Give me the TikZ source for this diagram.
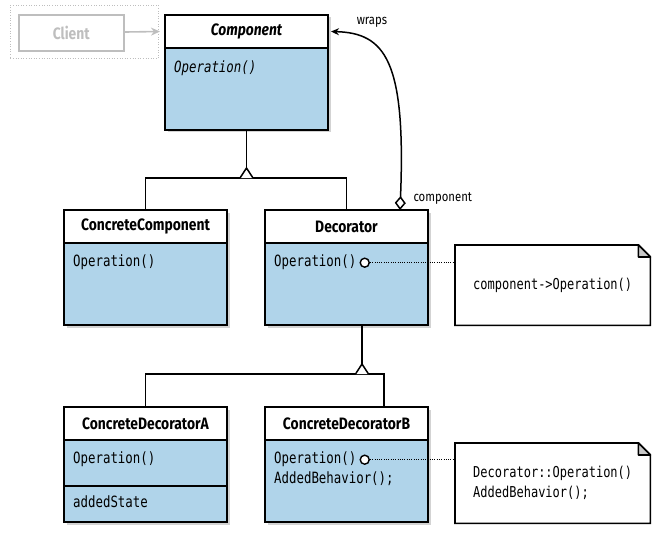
\documentclass[tikz,border=0pt]{standalone}
\usepackage{fontspec}
\setmainfont{Fira Sans}[FakeStretch=0.84]
\newfontfamily\codefont{DejaVu Sans Mono}[FakeStretch=0.8]
\usetikzlibrary{shapes, arrows.meta, calc, positioning, shadows}
\definecolor{boxblue}{RGB}{176,212,234}
\definecolor{clientgray}{RGB}{190,190,190}
\definecolor{foldgray}{RGB}{200,200,200}

\begin{document}
\begin{tikzpicture}[x=1pt, y=-1pt, >={Stealth[length=8pt, width=7pt]}]
	\tikzstyle{boxshadow} = [drop shadow={shadow xshift=2.5pt, shadow yshift=-2.5pt, opacity=0.35}]
	\tikzstyle{head} = [draw, line width=1.6pt, fill=white, boxshadow, minimum width=163pt, minimum height=33pt, inner sep=0pt, outer sep=0pt, font=\fontsize{16.5}{18}\selectfont\bfseries]
	\tikzstyle{body} = [draw, line width=1.6pt, fill=boxblue, boxshadow, minimum width=163pt, minimum height=82pt, inner sep=0pt, outer sep=0pt]
	\tikzstyle{member} = [inner sep=0pt, align=left, anchor=north west, font=\codefont\fontsize{15.5}{20}\selectfont]
	\tikzstyle{conn} = [line width=1.5pt]
	\tikzstyle{hole} = [draw, circle, line width=1.4pt, fill=white, minimum size=9pt, inner sep=0pt]
	\tikzstyle{note} = [minimum width=195pt, minimum height=80pt, inner sep=0pt, align=left, font=\codefont\fontsize{15}{20}\selectfont]

	\useasboundingbox (0,0) rectangle (660,540);

	% client
	\node[draw=clientgray, dotted, line width=0.6pt, minimum width=148pt, minimum height=53pt, anchor=north west] (frame) at (10,5) {};
	\node[draw=clientgray, line width=1.6pt, minimum width=105pt, minimum height=36pt, anchor=north west, text=clientgray, font=\fontsize{16.5}{18}\selectfont\bfseries] (client) at (18,14) {Client};

	% classes
	\node[head, anchor=north west] (comp) at (165,15) {\itshape Component};
	\node[body, below=0pt of comp] (compbody) {};
	\node[member, font=\codefont\itshape\fontsize{15.5}{20}\selectfont] (compop) at ($(compbody.north west)+(9,13)$) {Operation()};

	\node[head, anchor=north west] (cc) at (64,210) {ConcreteComponent};
	\node[body, below=0pt of cc] (ccbody) {};
	\node[member] (ccop) at ($(ccbody.north west)+(9,12)$) {Operation()};

	\node[head, anchor=north west] (dec) at (265,210) {Decorator};
	\node[body, below=0pt of dec] (decbody) {};
	\node[member] (decop) at ($(decbody.north west)+(9,12)$) {Operation()};
	\node[hole, right=3pt of decop] (decdot) {};

	\node[head, anchor=north west] (cda) at (64,407) {ConcreteDecoratorA};
	\node[body, below=0pt of cda, minimum height=46pt] (cdabody) {};
	\node[body, below=0pt of cdabody, minimum height=36pt] (cdastate) {};
	\node[member] (cdaop) at ($(cdabody.north west)+(9,12)$) {Operation()};
	\node[member] (cdavar) at ($(cdastate.north west)+(9,10)$) {addedState};

	\node[head, anchor=north west] (cdb) at (265,407) {ConcreteDecoratorB};
	\node[body, below=0pt of cdb] (cdbbody) {};
	\node[member] (cdbop) at ($(cdbbody.north west)+(9,12)$) {Operation()\\AddedBehavior();};
	\node[hole] (cdbdot) at ($(decdot)+(0,197)$) {};

	% notes
	\node[note, anchor=north west] (note1) at (455,245) {};
	\node[note, anchor=north west] (note2) at (455,443) {};
	\foreach \n in {note1, note2} {
		\draw[line width=1.6pt, fill=white] (\n.north west) -- ([xshift=-12pt]\n.north east) -- ([yshift=-12pt]\n.north east) -- (\n.south east) -- (\n.south west) -- cycle;
		\draw[line width=1.6pt, fill=foldgray, line join=round] ([xshift=-12pt]\n.north east) -- ([xshift=-12pt, yshift=-12pt]\n.north east) -- ([yshift=-12pt]\n.north east) -- cycle;
	}
	\node[note, anchor=north west] (note1text) at (note1.north west) {component->Operation()};
	\node[note, anchor=north west] (note2text) at (note2.north west) {Decorator::Operation()\\AddedBehavior();};

	% links
	\draw[->, line width=1.6pt, >={Stealth[length=9pt, width=8pt]}, color=clientgray] (client) -- (comp.west -| 160,0);

	\coordinate (split1) at ($(compbody.south)+(0,48)$);
	\draw[conn] (compbody.south) -- (split1);
	\draw[conn] (cc.north) |- (split1) -| (dec.north);
	\draw[conn, fill=white, line join=miter] ($(split1)+(-6.5,0)$) -- ++(6.5,-10) -- ++(6.5,10);

	\coordinate (split2) at ($(decbody.south)+(15.5,49)$);
	\draw[conn] ($(decbody.south)+(15.5,0)$) -- (split2);
	\draw[conn] (cda.north) |- (split2) -| ($(cdb.north)+(37.5,0)$);
	\draw[conn, fill=white, line join=miter] ($(split2)+(-6.5,0)$) -- ++(6.5,-10) -- ++(6.5,10);

	\draw[line width=1.3pt, dash pattern=on 1pt off 1.3pt] (decdot.east) -- (decdot -| note1.west);
	\draw[line width=1.3pt, dash pattern=on 1pt off 1.3pt] (cdbdot.east) -- (cdbdot -| note2.west);

	\draw[conn, {Diamond[open, length=14pt, width=11pt]}->] ([xshift=-28pt]dec.north east) .. controls (406,60) and (385,33) .. ([xshift=3pt]comp.east);
	\node[font=\fontsize{13.5}{15}\selectfont] (wraps) at (372,22) {wraps};
	\node[font=\fontsize{13.5}{15}\selectfont, anchor=west] (complabel) at (410,199) {component};
\end{tikzpicture}
\end{document}
